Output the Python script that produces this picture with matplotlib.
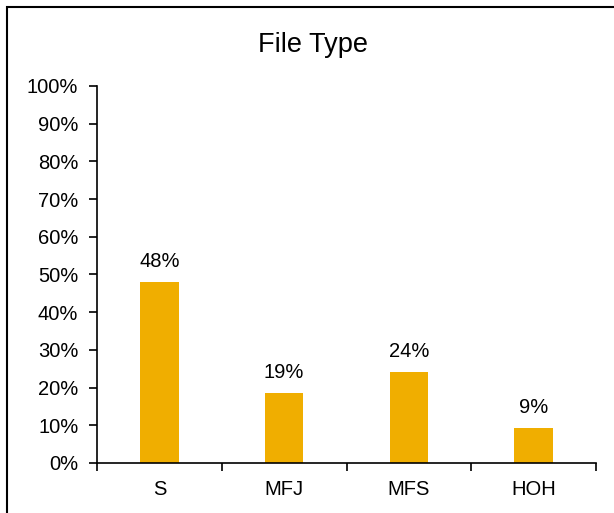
import matplotlib.pyplot as plt
from matplotlib.patches import Rectangle
from matplotlib.ticker import FixedLocator, PercentFormatter

categories = ["S", "MFJ", "MFS", "HOH"]
shares     = [0.48, 0.186, 0.241, 0.093]
labels     = ["48%", "19%", "24%", "9%"]

plt.rcParams['font.family'] = ['Liberation Sans', 'DejaVu Sans']

fig = plt.figure(figsize=(6.14, 5.13), dpi=100)
ax = fig.add_axes([0.158, 0.0975, 0.8127, 0.7349])

x = range(len(categories))
bars = ax.bar(x, shares, width=0.31, color="#F0AE00")

for b, t in zip(bars, labels):
    ax.annotate(t, (b.get_x() + b.get_width() / 2, b.get_height()),
                xytext=(0, 10.8), textcoords="offset points",
                ha="center", va="baseline", fontsize=14.5)

ax.set_xlim(-0.5, len(categories) - 0.5)
ax.set_ylim(0, 1)
ax.set_yticks([i / 10 for i in range(11)])
ax.yaxis.set_major_formatter(PercentFormatter(1.0, decimals=0))
ax.set_xticks(list(x))
ax.set_xticklabels(categories)
ax.xaxis.set_minor_locator(FixedLocator([i - 0.5 for i in range(len(categories) + 1)]))
ax.tick_params(axis="x", which="major", length=0, pad=12, labelsize=14.5)
ax.tick_params(axis="x", which="minor", length=5.5, width=1.2, direction="out")
ax.tick_params(axis="y", length=5.5, width=1.2, direction="out", pad=8, labelsize=14.5)

for s in ["top", "right"]:
    ax.spines[s].set_visible(False)
for s in ["left", "bottom"]:
    ax.spines[s].set_linewidth(1.2)

fig.text(0.5098, 0.8986, "File Type", ha="center", va="baseline", fontsize=19.5)

# outer chart frame
fig.patches.append(Rectangle((0.0114, -0.2), 2, 0.9864 + 0.2, transform=fig.transFigure,
                             fill=False, edgecolor="black", linewidth=1.5))

plt.savefig("out.png")
plt.close(fig)
